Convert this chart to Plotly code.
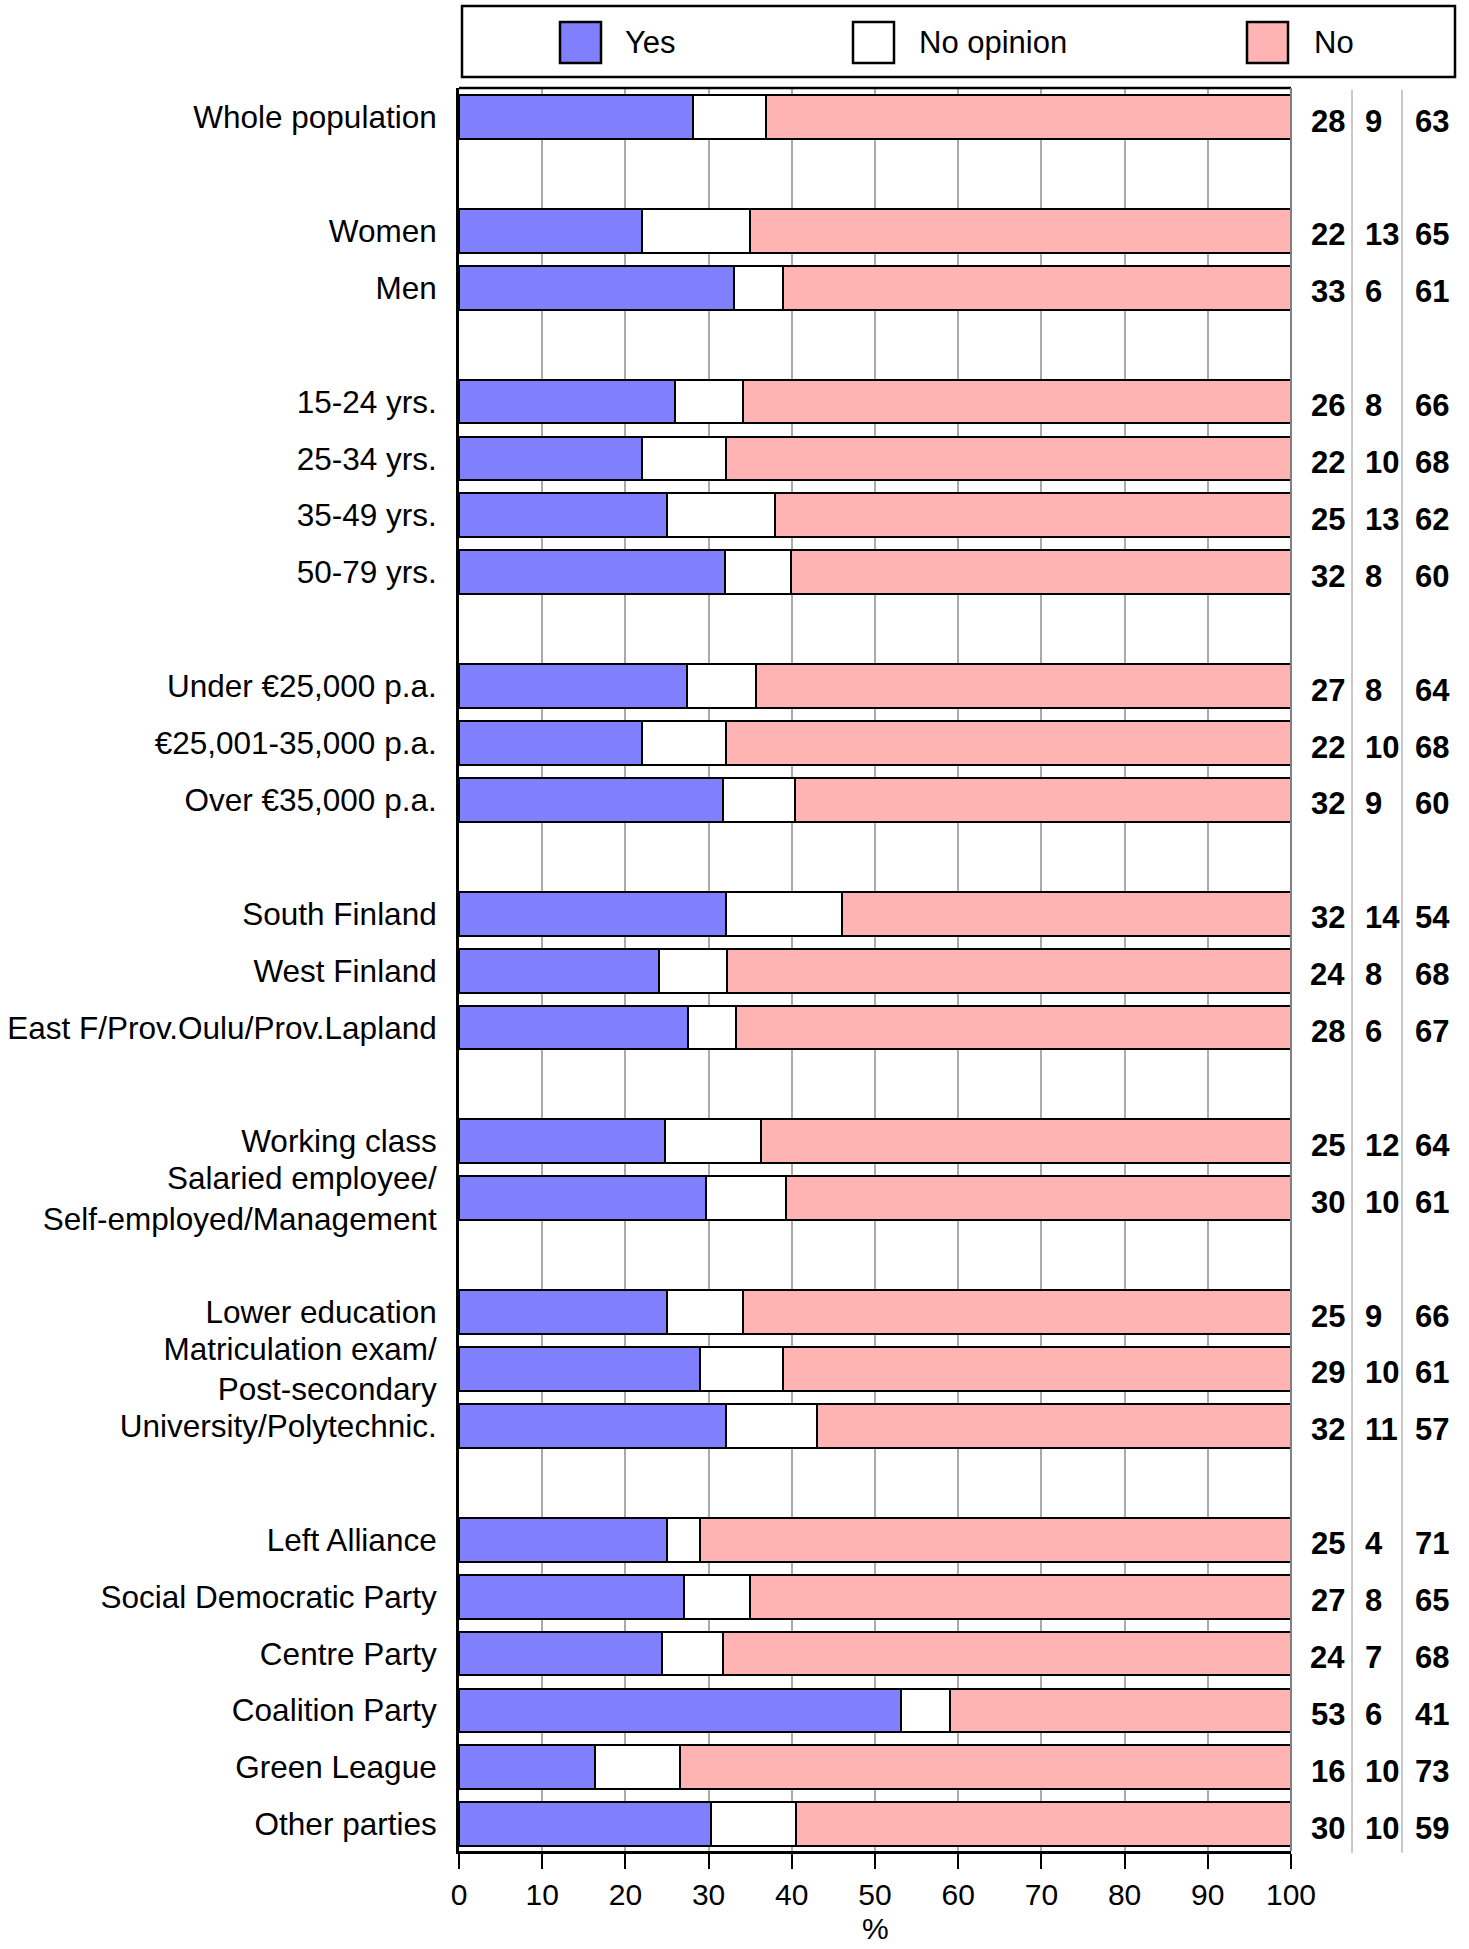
import plotly.graph_objects as go

# ---- data ----
rows = ["Whole population", "",
        "Women", "Men", "",
        "15-24 yrs.", "25-34 yrs.", "35-49 yrs.", "50-79 yrs.", "",
        "Under €25,000 p.a.", "€25,001-35,000 p.a.", "Over €35,000 p.a.", "",
        "South Finland", "West Finland", "East F/Prov.Oulu/Prov.Lapland", "",
        "Working class", "Salaried employee/<br>Self-employed/Management", "",
        "Lower education", "Matriculation exam/<br>Post-secondary", "University/Polytechnic.", "",
        "Left Alliance", "Social Democratic Party", "Centre Party", "Coalition Party",
        "Green League", "Other parties"]

# bar lengths
yes_bar = [28.1, None, 22.0, 33.0, None, 26.0, 22.0, 25.0, 32.0, None,
           27.4, 22.0, 31.7, None, 32.1, 24.0, 27.5, None, 24.7, 29.7, None,
           25.0, 29.0, 32.1, None, 25.0, 27.1, 24.4, 53.1, 16.4, 30.3]
noop_bar = [8.8, None, 13.0, 6.0, None, 8.1, 10.1, 13.0, 7.9, None,
            8.3, 10.1, 8.7, None, 13.9, 8.2, 5.8, None, 11.6, 9.6, None,
            9.1, 10.0, 10.9, None, 4.0, 7.9, 7.3, 5.9, 10.2, 10.2]
no_bar = [63.1, None, 65.0, 61.0, None, 65.9, 67.9, 62.0, 60.1, None,
          64.3, 67.9, 59.6, None, 54.0, 67.8, 66.7, None, 63.7, 60.7, None,
          65.9, 61.0, 57.0, None, 71.0, 65.0, 68.3, 41.0, 73.4, 59.5]

# printed values
yes_lbl = [28, None, 22, 33, None, 26, 22, 25, 32, None, 27, 22, 32, None,
           32, 24, 28, None, 25, 30, None, 25, 29, 32, None, 25, 27, 24, 53, 16, 30]
noop_lbl = [9, None, 13, 6, None, 8, 10, 13, 8, None, 8, 10, 9, None,
            14, 8, 6, None, 12, 10, None, 9, 10, 11, None, 4, 8, 7, 6, 10, 10]
no_lbl = [63, None, 65, 61, None, 66, 68, 62, 60, None, 64, 68, 60, None,
          54, 68, 67, None, 64, 61, None, 66, 61, 57, None, 71, 65, 68, 41, 73, 59]

series_names = ["Yes", "No opinion", "No"]
x_ticks = [0, 10, 20, 30, 40, 50, 60, 70, 80, 90, 100]
x_title = "%"

# ---- styling ----
FONT = "Arial, Liberation Sans, sans-serif"
C_YES = "#8080FF"
C_NOOP = "#FFFFFF"
C_NO = "#FFB3B3"
colors = [C_YES, C_NOOP, C_NO]

ypos = list(range(len(rows)))
fig = go.Figure()
for name, vals, col in zip(series_names, [yes_bar, noop_bar, no_bar], colors):
    fig.add_trace(go.Bar(
        y=ypos, x=vals, orientation="h", name=name, width=0.77,
        marker=dict(color=col, line=dict(color="black", width=2.5)),
        showlegend=False, hoverinfo="skip"))

tickvals = [i for i, r in enumerate(rows) if r]
ticktext = [r for r in rows if r]

# pixel helpers for decorations (plot area 459..1291 x 88..1851)
W_PLOT = 832.0
H_PLOT = 1763.0
def px(xpix):
    return (xpix - 459) / W_PLOT
def py(ypix):
    return (1851 - ypix) / H_PLOT

NUMFONT = dict(family=FONT, size=31, color="black", weight="bold")
annotations = []
for i in range(len(rows)):
    if yes_lbl[i] is None:
        continue
    annotations.append(dict(x=1.0673, y=i, xref="paper", yref="y", text=str(yes_lbl[i]),
                            xanchor="right", showarrow=False, font=NUMFONT, yshift=-4))
    annotations.append(dict(x=1.0865, y=i, xref="paper", yref="y", text=str(noop_lbl[i]),
                            xanchor="left", showarrow=False, font=NUMFONT, yshift=-4))
    annotations.append(dict(x=1.1465, y=i, xref="paper", yref="y", text=str(no_lbl[i]),
                            xanchor="left", showarrow=False, font=NUMFONT, yshift=-4))

# x-axis title
annotations.append(dict(x=0.5, y=py(1929), xref="paper", yref="paper", text=x_title,
                        xanchor="center", yanchor="middle", showarrow=False, borderpad=0,
                        font=dict(family=FONT, size=30, color="black")))

shapes = []
# column separators
for xp in [1.0733, 1.1334]:
    shapes.append(dict(type="line", xref="paper", yref="paper", x0=xp, x1=xp, y0=-0.001, y1=0.999,
                       line=dict(color="#C8C8C8", width=2)))
# top and right frame
shapes.append(dict(type="line", xref="paper", yref="paper", x0=0, x1=1, y0=1, y1=1,
                   line=dict(color="black", width=2.5)))
shapes.append(dict(type="line", xref="paper", yref="paper", x0=1, x1=1, y0=0, y1=1,
                   line=dict(color="#808080", width=2)))

# legend box (custom)
shapes.append(dict(type="rect", xref="paper", yref="paper", x0=px(462), x1=px(1455),
                   y0=py(77), y1=py(6), line=dict(color="black", width=2.5), fillcolor="white"))
sw_x = [560, 853, 1247]
tx_x = [623, 917, 1312]
for name, col, sx, tx in zip(series_names, colors, sw_x, tx_x):
    shapes.append(dict(type="rect", xref="paper", yref="paper", x0=px(sx), x1=px(sx + 41),
                       y0=py(63), y1=py(22), line=dict(color="black", width=2.5), fillcolor=col))
    annotations.append(dict(x=px(tx), y=py(42), xref="paper", yref="paper", text=name,
                            xanchor="left", yanchor="middle", showarrow=False,
                            font=dict(family=FONT, size=31, color="black")))

fig.update_layout(
    width=1469, height=1949,
    margin=dict(l=459, r=178, t=88, b=98, autoexpand=False),
    barmode="stack", bargap=0,
    plot_bgcolor="white", paper_bgcolor="white",
    font=dict(family=FONT, size=31, color="black"),
    xaxis=dict(range=[0, 100], tickvals=x_ticks, ticktext=[str(v) for v in x_ticks],
               showgrid=True, gridcolor="#AAAAAA", gridwidth=1.5,
               showline=True, linecolor="black", linewidth=3,
               ticks="outside", ticklen=15, tickwidth=1.5, tickcolor="black",
               ticklabelstandoff=0, automargin=False,
               tickfont=dict(family=FONT, size=30),
               zeroline=False),
    yaxis=dict(range=[30.47, -0.51], tickvals=tickvals, ticktext=ticktext,
               showgrid=False, zeroline=False, automargin=False,
               showline=True, linecolor="black", linewidth=3,
               ticks="", ticklabelstandoff=13,
               tickfont=dict(family=FONT, size=31.5)),
    annotations=annotations,
    shapes=shapes,
)

fig.write_html("out.html", config={"displayModeBar": False},
               post_script="document.body.style.margin='0';document.body.style.overflow='hidden';")
